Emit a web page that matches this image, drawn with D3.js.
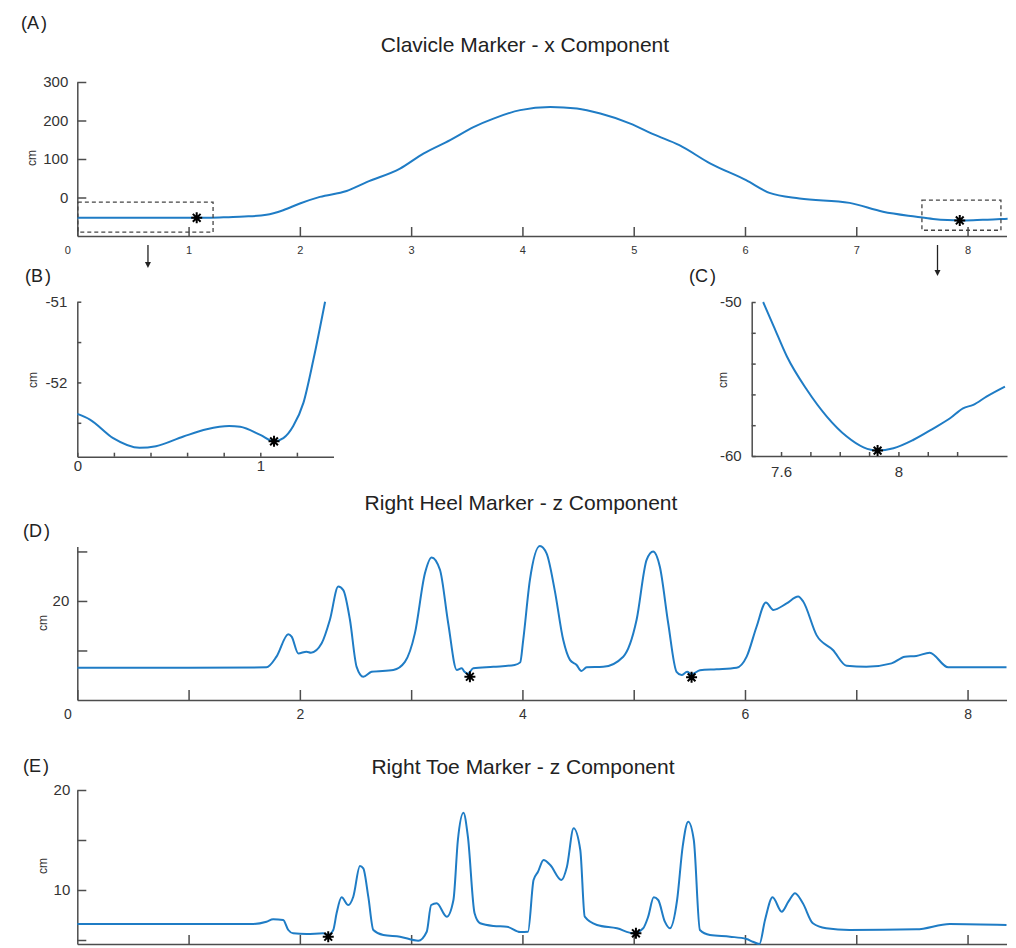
<!DOCTYPE html>
<html><head><meta charset="utf-8">
<script src="https://cdn.jsdelivr.net/npm/d3@7"></script>
<style>
body{margin:0;background:#fff;}
text{font-family:"Liberation Sans",Arial,sans-serif;}
</style></head>
<body><svg id="c" width="1016" height="948"></svg>
<script>
// ---------- DATA ----------
const clavX = [0,0.3,0.6,0.85,1.07,1.2,1.36,1.5,1.7,1.85,2.0,2.18,2.42,2.6,2.9,3.11,3.35,3.56,3.74,3.98,4.25,4.49,4.7,4.97,5.18,5.41,5.69,6.01,6.22,6.49,6.94,7.24,7.54,7.69,7.82,7.93,8.05,8.18,8.3,8.36];
const clavY = [-52.4,-52.8,-52.67,-52.55,-52.73,-52.5,-51,-49.5,-45,-33,-15.6,1.6,17,40,75,114,149,183,205,227,235,231,218,192,164,136,88,45,12,-2.6,-14,-37,-50,-55.7,-58.7,-59.65,-59,-57.5,-56.1,-55.5];
const clavStars = [[1.073,-52.73],[7.93,-59.65]];
const clavBoxes = [[0.005,1.22,-12,-90],[7.59,8.3,-7,-85]];
const clavXTicks = [0,1,2,3,4,5,6,7,8];
const clavYTicks = [0,100,200,300];

const bX = [0,0.069,0.196,0.34,0.43,0.58,0.707,0.83,0.89,1.0,1.075,1.126,1.18,1.236,1.29,1.354];
const bY = [-52.39,-52.46,-52.69,-52.81,-52.79,-52.67,-52.58,-52.54,-52.55,-52.65,-52.73,-52.69,-52.54,-52.25,-51.72,-51.0];
const bStar = [[1.075,-52.73]];
const bXTicks = [0,0.2,0.4,0.6,0.8,1,1.2];
const bXLabels = [0,1];
const bYTicks = [-52.5,-52,-51.5,-51];
const bYLabels = [-52,-51];

const cX = [7.539,7.575,7.62,7.688,7.756,7.824,7.881,7.929,7.983,8.05,8.12,8.176,8.22,8.255,8.30,8.363];
const cY = [-50,-51.58,-53.54,-55.7,-57.44,-58.74,-59.44,-59.65,-59.5,-58.96,-58.2,-57.55,-56.9,-56.68,-56.14,-55.49];
const cStar = [[7.929,-59.65]];
const cXTicks = [7.6,7.7,7.8,7.9,8,8.1,8.2];
const cXLabels = [7.6,8];
const cYTicks = [-60,-58,-56,-54,-52,-50];
const cYLabels = [-60,-50];

const heelX = [0,1.0,1.70,1.79,1.896,1.926,1.986,2.06,2.10,2.196,2.27,2.345,2.39,2.45,2.51,2.57,2.645,2.84,2.944,3.034,3.124,3.184,3.259,3.333,3.41,3.454,3.48,3.51,3.558,3.738,3.93,3.98,4.007,4.067,4.157,4.217,4.29,4.367,4.427,4.487,4.53,4.577,4.726,4.906,5.026,5.116,5.175,5.235,5.31,5.385,5.43,5.48,5.52,5.595,5.745,5.925,6.015,6.104,6.188,6.254,6.374,6.478,6.523,6.643,6.79,6.913,7.09,7.317,7.437,7.54,7.66,7.826,8.35];
const heelY = [6.5,6.5,6.6,8.75,13.27,12.8,9.4,9.76,9.55,11.45,16.2,22.9,22.2,16.2,6.7,4.7,5.7,6.06,7.7,13.5,25.6,28.8,26.3,15.5,6.06,6.4,5.7,5.3,6.4,6.7,7.07,7.6,12.1,24.2,31.1,29.6,22.2,12.1,8.1,7.07,5.86,6.6,6.7,8.75,16.2,28.3,30.0,26.9,15.5,5.7,5.05,5.7,5.2,6.0,6.2,6.5,8.75,14.8,19.7,18.2,19.5,20.9,19.9,13.1,10.1,6.9,6.7,7.4,8.75,8.9,9.56,6.6,6.6];
const heelStars = [[3.528,4.7],[5.52,4.58]];
const heelXTicks = [0,1,2,3,4,5,6,7,8];
const heelXLabels = [0,2,4,6,8];
const heelYTicks = [10,20,30];
const heelYLabels = [20];

const toeX = [0,1.58,1.70,1.76,1.85,1.896,1.94,2.06,2.21,2.255,2.30,2.33,2.375,2.435,2.48,2.54,2.57,2.615,2.66,2.75,2.90,3.064,3.14,3.18,3.23,3.32,3.38,3.42,3.47,3.51,3.57,3.62,3.74,3.86,3.98,4.05,4.10,4.14,4.19,4.25,4.35,4.40,4.46,4.52,4.56,4.67,4.85,5.0,5.085,5.13,5.18,5.22,5.28,5.325,5.39,5.44,5.49,5.54,5.595,5.685,5.865,6.014,6.07,6.13,6.18,6.248,6.33,6.39,6.45,6.52,6.61,6.73,6.94,7.54,7.84,8.35];
const toeY = [6.6,6.6,6.83,7.07,7.0,6.0,5.67,5.6,5.67,5.5,6.0,7.67,9.27,8.5,9.33,12.4,12.17,9.33,6.0,5.5,5.33,4.93,5.83,8.5,8.67,7.33,9.0,15.0,17.73,15.33,7.67,6.67,6.4,6.33,5.8,5.83,11.0,11.83,13.0,12.5,11.0,12.33,16.17,14.0,7.33,6.5,6.17,5.67,6.17,7.33,9.27,9.0,6.83,6.17,9.0,14.33,16.83,15.0,6.0,5.5,5.33,5.1,4.83,4.6,7.0,9.27,7.83,8.83,9.67,8.67,6.67,6.17,6.0,6.07,6.6,6.5];
const toeStars = [[2.255,5.33],[5.02,5.67]];
const toeXTicks = [1,2,3,4,5,6,7,8];
const toeYTicks = [5,10,15,20];
const toeYLabels = [10,20];

// ---------- DRAW ----------
const svg = d3.select("#c");
const BLUE = "#1f7cc5", AX = "#4d4d4d", TXT = "#333";

function starPath(cx, cy, r){
  const d = [];
  for (let a = 0; a < 4; a++){
    const t = a*Math.PI/4;
    d.push(`M${cx - r*Math.cos(t)},${cy - r*Math.sin(t)}L${cx + r*Math.cos(t)},${cy + r*Math.sin(t)}`);
  }
  return d.join("");
}

function panel(o){
  const g = svg.append("g");
  const x = d3.scaleLinear().domain(o.xd).range(o.xr);
  const y = d3.scaleLinear().domain(o.yd).range(o.yr);
  const xa = d3.axisBottom(x).tickValues(o.xt).tickSizeInner(-o.tl).tickSizeOuter(0)
     .tickFormat(d => (o.xl && o.xl.includes(d)) ? d : "").tickPadding(o.xpad);
  const gx = g.append("g").attr("transform", `translate(0,${o.yr[0]})`).call(xa);
  gx.select(".domain").attr("stroke", AX).attr("stroke-width", 1.5);
  gx.selectAll(".tick line").attr("stroke", AX).attr("stroke-width", 1.5);
  gx.selectAll("text").attr("fill", TXT).attr("font-size", o.xfs).style("font-family","Liberation Sans, Arial");
  if (o.zeroShift) gx.selectAll(".tick").filter(d => d === 0).select("text").attr("dx", o.zeroShift);
  const ya = d3.axisLeft(y).tickValues(o.yt).tickSizeInner(-o.tl).tickSizeOuter(0)
     .tickFormat(d => (o.yl && o.yl.includes(d)) ? d : "").tickPadding(o.ypad);
  const gy = g.append("g").attr("transform", `translate(${o.xr[0]},0)`).call(ya);
  gy.select(".domain").attr("stroke", AX).attr("stroke-width", 1.5);
  gy.selectAll(".tick line").attr("stroke", AX).attr("stroke-width", 1.5);
  gy.selectAll("text").attr("fill", TXT).attr("font-size", o.yfs).style("font-family","Liberation Sans, Arial");
  g.append("text").attr("transform", `translate(${o.cmx},${o.cmy}) rotate(-90)`)
    .attr("text-anchor","middle").attr("font-size",12).attr("fill",TXT).text("cm");
  const line = d3.line().x((d,i)=>x(o.dx[i])).y((d,i)=>y(o.dy[i])).curve(d3.curveMonotoneX);
  g.append("path").datum(o.dy).attr("d", line).attr("fill","none").attr("stroke",BLUE).attr("stroke-width",2);
  (o.stars||[]).forEach(s => {
    g.append("path").attr("d", starPath(x(s[0]), y(s[1]), 5.5)).attr("stroke","#000").attr("stroke-width",2).attr("fill","none");
  });
  (o.boxes||[]).forEach(b => {
    g.append("rect").attr("x", x(b[0])).attr("y", y(b[2])).attr("width", x(b[1])-x(b[0])).attr("height", y(b[3])-y(b[2]))
      .attr("fill","none").attr("stroke","#444").attr("stroke-width",1.3).attr("stroke-dasharray","4,3");
  });
  return {x, y, g};
}

function label(txt, x, y){
  const t = svg.append("text").attr("x", x).attr("y", y).attr("font-size", 18).attr("fill","#222");
  t.append("tspan").text("(" + txt);
  t.append("tspan").attr("dx", 2).text(")");
}
function title(txt, x, y){
  svg.append("text").attr("x", x).attr("y", y).attr("text-anchor","middle").attr("font-size",21).attr("fill","#222").text(txt);
}

// Panel A
const A = panel({xd:[0,8.35], xr:[77.3,1006.5], yd:[-100,300], yr:[236,82], xt:clavXTicks, xl:clavXTicks, yt:clavYTicks, yl:clavYTicks,
  tl:9, xpad:10, ypad:9, xfs:11, yfs:15, zeroShift:-10, dx:clavX, dy:clavY, stars:clavStars, boxes:clavBoxes, cmx:36, cmy:158});
[[0.635,245,268],[7.73,245,276]].forEach(a => {
  const ax = A.x(a[0]);
  svg.append("line").attr("x1",ax).attr("x2",ax).attr("y1",a[1]).attr("y2",a[2]-5).attr("stroke","#222").attr("stroke-width",1.3);
  svg.append("path").attr("d",`M${ax-3},${a[2]-6}L${ax+3},${a[2]-6}L${ax},${a[2]}Z`).attr("fill","#222");
});
label("A", 21, 29);
title("Clavicle Marker - x Component", 525, 52);

// Panel B
panel({xd:[0,1.4], xr:[77.3,333.5], yd:[-52.92,-51], yr:[456.7,301.7], xt:bXTicks, xl:bXLabels, yt:bYTicks, yl:bYLabels,
  tl:4, xpad:4, ypad:10, xfs:15, yfs:15, dx:bX, dy:bY, stars:bStar, cmx:37, cmy:380});
label("B", 25, 282);

// Panel C
panel({xd:[7.5,8.37], xr:[751.7,1007], yd:[-60,-50], yr:[456,302], xt:cXTicks, xl:cXLabels, yt:cYTicks, yl:cYLabels,
  tl:4, xpad:10, ypad:10, xfs:15, yfs:15, dx:cX, dy:cY, stars:cStar, cmx:727, cmy:380});
label("C", 689, 282);

// Panel D
panel({xd:[0,8.35], xr:[77.3,1006.5], yd:[0,31], yr:[700,546.5], xt:heelXTicks, xl:heelXLabels, yt:heelYTicks, yl:heelYLabels,
  tl:10, xpad:9, ypad:8, xfs:14, yfs:15, zeroShift:-10, dx:heelX, dy:heelY, stars:heelStars, cmx:47, cmy:623});
label("D", 23, 537);
title("Right Heel Marker - z Component", 521, 510);

// Panel E
panel({xd:[0,8.35], xr:[77.3,1006.5], yd:[4.6,20], yr:[944,790], xt:toeXTicks, xl:[], yt:toeYTicks, yl:toeYLabels,
  tl:9, xpad:6, ypad:7, xfs:14, yfs:15, dx:toeX, dy:toeY, stars:toeStars, cmx:47, cmy:866});
label("E", 23, 772);
title("Right Toe Marker - z Component", 523, 774);
</script>
</body></html>
